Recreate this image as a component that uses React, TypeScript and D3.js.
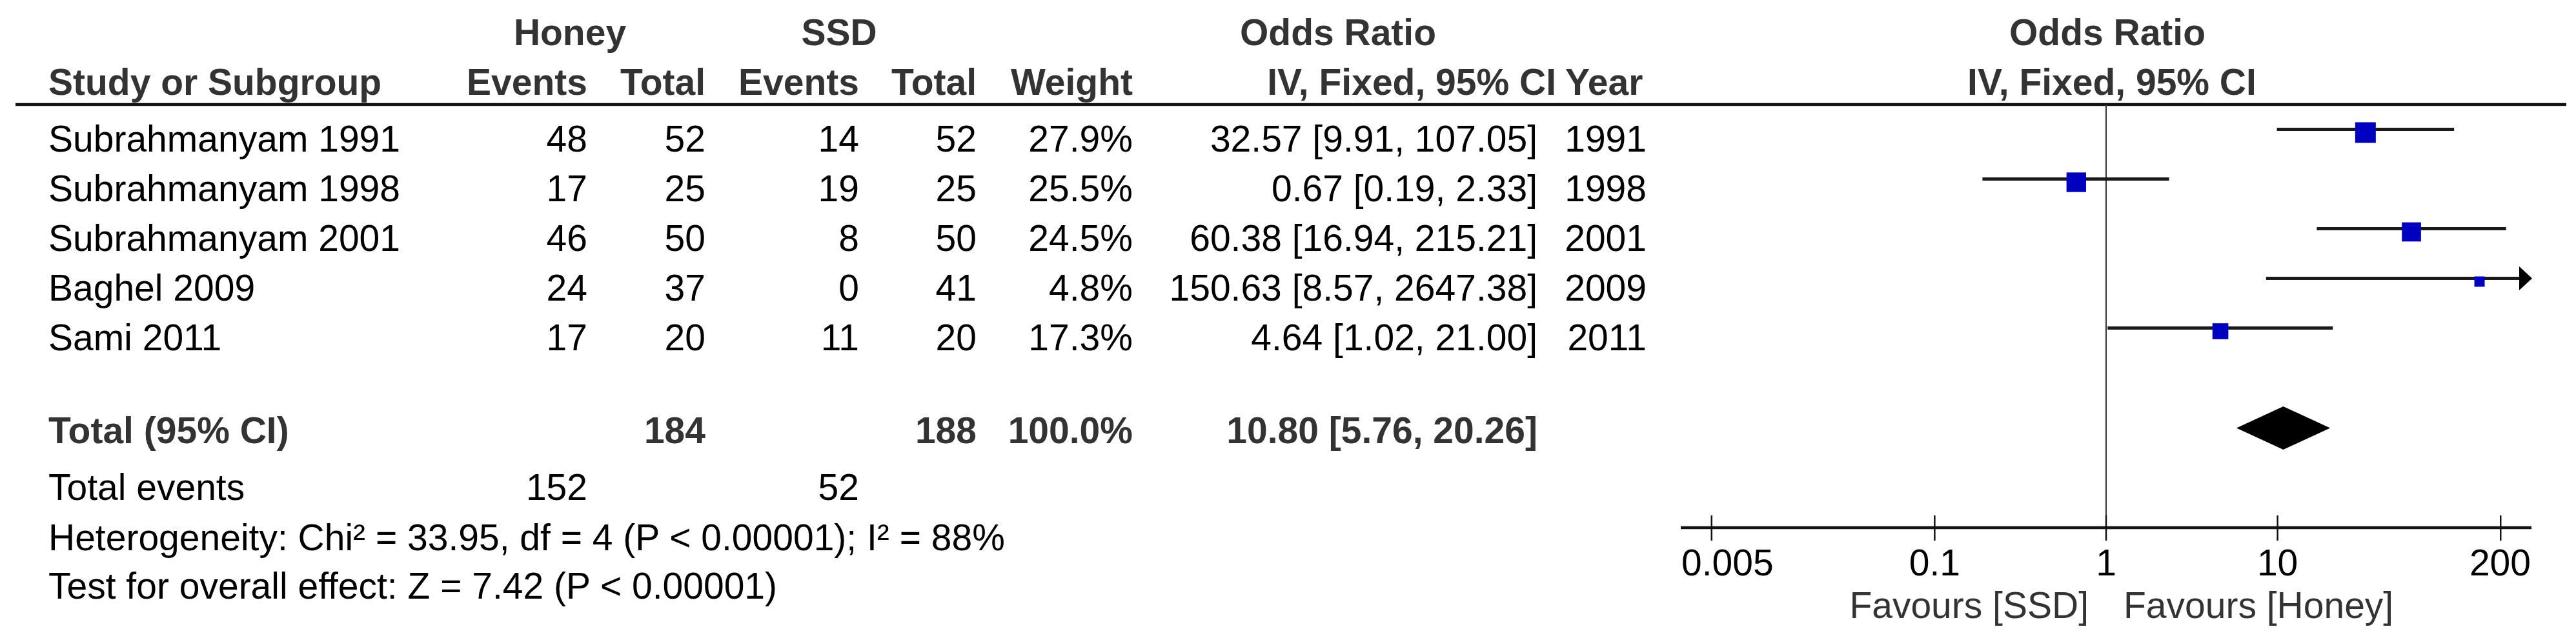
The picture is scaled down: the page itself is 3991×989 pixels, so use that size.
import React from "react";
import * as d3 from "d3";

// ---------- data ----------
const studies = ["Subrahmanyam 1991", "Subrahmanyam 1998", "Subrahmanyam 2001", "Baghel 2009", "Sami 2011"];
const honeyEvents = [48, 17, 46, 24, 17];
const honeyTotal = [52, 25, 50, 37, 20];
const ssdEvents = [14, 19, 8, 0, 11];
const ssdTotal = [52, 25, 50, 41, 20];
const weights = [27.9, 25.5, 24.5, 4.8, 17.3];
const oddsRatios = [32.57, 0.67, 60.38, 150.63, 4.64];
const ciLower = [9.91, 0.19, 16.94, 8.57, 1.02];
const ciUpper = [107.05, 2.33, 215.21, 2647.38, 21.0];
const years = [1991, 1998, 2001, 2009, 2011];

const totalHoney = 184;
const totalSsd = 188;
const totalWeight = 100.0;
const totalOR = 10.8;
const totalLower = 5.76;
const totalUpper = 20.26;
const eventsHoney = 152;
const eventsSsd = 52;
const heterogeneityText = "Heterogeneity: Chi\u00b2 = 33.95, df = 4 (P < 0.00001); I\u00b2 = 88%";
const overallText = "Test for overall effect: Z = 7.42 (P < 0.00001)";

const axisTicks = [0.005, 0.1, 1, 10, 200];
const tickLabels = ["0.005", "0.1", "1", "10", "200"];
const favoursLeft = "Favours [SSD]";
const favoursRight = "Favours [Honey]";

// ---------- layout ----------
const W = 3991;
const H = 989;
const FONT = "'Liberation Sans', Arial, Helvetica, sans-serif";
const FS = 57;
const BOLD_COLOR = "#333333";

const col = {
  name: 75,
  hEvents: 910,
  hTotal: 1093,
  sEvents: 1331,
  sTotal: 1513,
  weight: 1755,
  or: 2382,
  year: 2551,
};

const x = d3.scaleLog().domain([1 / 300, 300]).range([2605, 3921]);
const rowY = d3.scaleLinear().domain([0, 1]).range([235, 312]);
const sideScale = d3.scaleLinear().domain([4.8, 27.9]).range([16, 32]);

const fmtOR = (o: number, l: number, u: number) => `${o.toFixed(2)} [${l.toFixed(2)}, ${u.toFixed(2)}]`;

function textWidth(t: string, size: number, weight = "normal") {
  if (typeof document === "undefined") return t.length * size * 0.556;
  const c = document.createElement("canvas");
  const ctx = c.getContext("2d");
  if (!ctx) return t.length * size * 0.556;
  ctx.font = `${weight} ${size}px ${FONT}`;
  return ctx.measureText(t).width;
}

export default function App() {
  const [x0, x1] = x.range();
  const axisY = 818;
  const headerLineY = 162;

  const T = (props: any) => (
    <text fontFamily={FONT} fontSize={FS} fill="#000" {...props} />
  );
  const B = (props: any) => (
    <text fontFamily={FONT} fontSize={FS} fontWeight="bold" fill={BOLD_COLOR} {...props} />
  );

  const totalBase = 687;

  return (
    <svg width={W} height={H} viewBox={`0 0 ${W} ${H}`} style={{ position: "absolute", left: 0, top: 0, background: "#fff" }}>
      <rect x={0} y={0} width={W} height={H} fill="#fff" />
      {/* header row 1 */}
      <B x={883} y={70} textAnchor="middle">Honey</B>
      <B x={1300} y={70} textAnchor="middle">SSD</B>
      <B x={2073} y={70} textAnchor="middle">Odds Ratio</B>
      <B x={3265} y={70} textAnchor="middle">Odds Ratio</B>
      {/* header row 2 */}
      <B x={col.name} y={147}>Study or Subgroup</B>
      <B x={col.hEvents} y={147} textAnchor="end">Events</B>
      <B x={col.hTotal} y={147} textAnchor="end">Total</B>
      <B x={col.sEvents} y={147} textAnchor="end">Events</B>
      <B x={col.sTotal} y={147} textAnchor="end">Total</B>
      <B x={col.weight} y={147} textAnchor="end">Weight</B>
      <B x={2411} y={147} textAnchor="end">IV, Fixed, 95% CI</B>
      <B x={2425} y={147}>Year</B>
      <B x={3272} y={147} textAnchor="middle">IV, Fixed, 95% CI</B>

      <line x1={24} x2={3976} y1={headerLineY} y2={headerLineY} stroke="#111" strokeWidth={4.5} />

      {/* vertical line at 1 */}
      <line x1={x(1)} x2={x(1)} y1={headerLineY} y2={axisY} stroke="#333" strokeWidth={2} />

      {/* study rows */}
      {studies.map((s, i) => {
        const b = rowY(i);
        const ly = b - 34.5;
        const lo = Math.max(x(ciLower[i]), x0);
        const hiRaw = x(ciUpper[i]);
        const clipped = hiRaw > x1;
        const hi = clipped ? x1 - 4 : hiRaw;
        const side = sideScale(weights[i]);
        const cx = x(oddsRatios[i]);
        return (
          <g key={s}>
            <T x={col.name} y={b}>{s}</T>
            <T x={col.hEvents} y={b} textAnchor="end">{honeyEvents[i]}</T>
            <T x={col.hTotal} y={b} textAnchor="end">{honeyTotal[i]}</T>
            <T x={col.sEvents} y={b} textAnchor="end">{ssdEvents[i]}</T>
            <T x={col.sTotal} y={b} textAnchor="end">{ssdTotal[i]}</T>
            <T x={col.weight} y={b} textAnchor="end">{weights[i].toFixed(1)}%</T>
            <T x={col.or} y={b} textAnchor="end">{fmtOR(oddsRatios[i], ciLower[i], ciUpper[i])}</T>
            <T x={col.year} y={b} textAnchor="end">{years[i]}</T>
            <line x1={lo} x2={hi} y1={ly} y2={ly} stroke="#1a1a1a" strokeWidth={5} />
            {clipped && (
              <path d={`M${x1 - 18},${ly - 18.5} L${x1 + 2},${ly} L${x1 - 18},${ly + 18.5} Z`} fill="#000" />
            )}
            <rect x={cx - side / 2} y={ly + 5 - side / 2} width={side} height={side} fill="#0000C0" />
          </g>
        );
      })}

      {/* total row */}
      <B x={col.name} y={totalBase}>Total (95% CI)</B>
      <B x={col.hTotal} y={totalBase} textAnchor="end">{totalHoney}</B>
      <B x={col.sTotal} y={totalBase} textAnchor="end">{totalSsd}</B>
      <B x={col.weight} y={totalBase} textAnchor="end">{totalWeight.toFixed(1)}%</B>
      <B x={col.or} y={totalBase} textAnchor="end">{fmtOR(totalOR, totalLower, totalUpper)}</B>
      {(() => {
        const cy = totalBase - 23.5;
        const hh = 33.5;
        const l = x(totalLower), r = x(totalUpper), c = x(totalOR);
        return <path d={`M${l},${cy} L${c},${cy - hh} L${r},${cy} L${c},${cy + hh} Z`} fill="#000" />;
      })()}

      <T x={col.name} y={775}>Total events</T>
      <T x={col.hEvents} y={775} textAnchor="end">{eventsHoney}</T>
      <T x={col.sEvents} y={775} textAnchor="end">{eventsSsd}</T>
      <T x={col.name} y={853}>{heterogeneityText}</T>
      <T x={col.name} y={928}>{overallText}</T>

      {/* axis */}
      <line x1={x0 - 1} x2={x1 + 1} y1={axisY} y2={axisY} stroke="#111" strokeWidth={4.5} />
      {axisTicks.map((t, i) => {
        const tx = x(t);
        const w = textWidth(tickLabels[i], FS);
        let lx = tx;
        let anchor = "middle";
        if (tx - w / 2 < x0) { lx = x0; anchor = "start"; }
        else if (tx + w / 2 > x1) { lx = x1; anchor = "end"; }
        return (
          <g key={t}>
            <line x1={tx} x2={tx} y1={799} y2={838} stroke="#111" strokeWidth={2.5} />
            <T x={lx} y={892} textAnchor={anchor}>{tickLabels[i]}</T>
          </g>
        );
      })}
      <T x={x(1) - 27} y={958} textAnchor="end" fill="#333">{favoursLeft}</T>
      <T x={x(1) + 27} y={958} fill="#333">{favoursRight}</T>
    </svg>
  );
}
